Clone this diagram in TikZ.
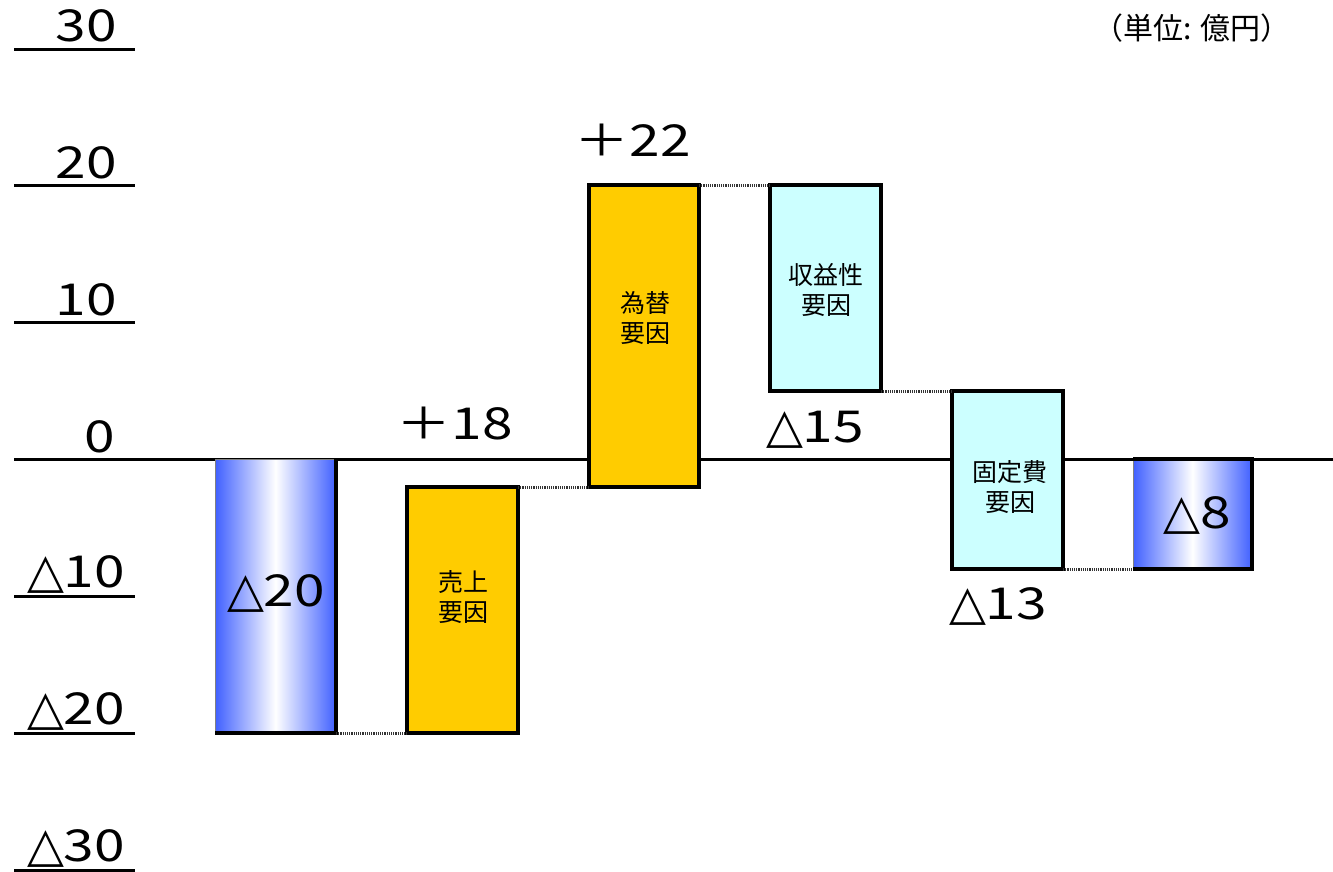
\documentclass[tikz,border=0pt]{standalone}
\usepackage{fontspec}
\setmainfont{Noto Sans CJK JP}
\newfontfamily\numfont{Noto Sans CJK JP}[FakeStretch=1.25]
\newfontfamily\trifont{DejaVu Sans}
\newcommand\mytri{{\trifont\fontsize{48}{48}\selectfont △}}
\begin{document}
\begin{tikzpicture}[x=1pt,y=-1pt,
  big/.style={font=\numfont\fontsize{44}{44}\selectfont, inner sep=0},
  axlab/.style={font=\numfont\fontsize{44}{44}\selectfont, inner sep=0},
  boxtxt/.style={font=\fontsize{25}{30}\selectfont, align=center, inner sep=0},
  bar/.style={draw=black, line width=3.5pt, inner sep=0, outer sep=0, anchor=north west},
  gbar/.style={draw=gray, line width=1pt, inner sep=0, outer sep=0, anchor=north west, left color=gblue, right color=gblue, middle color=white},
  conn/.style={draw=black!80, line width=3pt, dash pattern=on 1.2pt off 1pt},
  tick/.style={line width=3pt}]
\definecolor{gblue}{RGB}{64,96,255}
\definecolor{byel}{RGB}{255,204,0}
\definecolor{bcyan}{RGB}{204,255,255}
\useasboundingbox (0,0) rectangle (1333,871);
% axis ticks and labels
\foreach \y/\n in {49/a30,185/a20,322/a10,596/m10,733/m20,870/m30}{
  \coordinate (\n l) at (14,\y);
  \coordinate (\n r) at (135,\y);
  \draw[tick] (\n l) -- (\n r);
}
\node[axlab] (t30) at (86,26) {30};
\node[axlab] (t20) at (86,163) {20};
\node[axlab] (t10) at (86,300) {10};
\node[axlab] (t0) at (100,437) {0};
\node[axlab] (tm10) at (76,574) {\mytri10};
\node[axlab] (tm20) at (76,711) {\mytri20};
\node[axlab] (tm30) at (76,848) {\mytri30};
% zero line
\coordinate (z0) at (14,459);
\coordinate (z1) at (1333,459);
\draw[line width=3pt] (z0) -- (z1);
% bars
\node[gbar, minimum width=121, minimum height=274] (b1) at (215,459) {};
\draw[line width=3.5pt] (b1.north east) -- (b1.south east) -- (b1.south west);
\node[bar, fill=byel, minimum width=111, minimum height=246] (b2) at (407,487) {};
\node[bar, fill=byel, minimum width=110, minimum height=302] (b3) at (589,185) {};
\node[bar, fill=bcyan, minimum width=111, minimum height=206] (b4) at (770,185) {};
\node[bar, fill=bcyan, minimum width=111, minimum height=178] (b5) at (952,391) {};
\node[gbar, minimum width=119, minimum height=110] (b6) at (1133,459) {};
\draw[line width=3.5pt] (b6.north west) -- (b6.north east) -- (b6.south east) -- (b6.south west);
% connectors
\draw[conn] (b1.south east) -- (b2.south west);
\draw[conn] (b2.north east) -- (b3.south west);
\draw[conn] (b3.north east) -- (b4.north west);
\draw[conn] (b4.south east) -- (b5.north west);
\draw[conn] (b5.south east) -- (b6.south west);
% box texts
\node[boxtxt] (l2) at (463,597) {売上\\要因};
\node[boxtxt] (l3) at (645,318) {為替\\要因};
\node[boxtxt] (l4) at (826,290) {収益性\\要因};
\node[boxtxt] (l5) at (1010,487) {固定費\\要因};
% values
\node[big] (v1) at (276,593) {\mytri20};
\node[big] (v2) at (455,424) {＋18};
\node[big] (v3) at (633,140) {＋22};
\node[big] (v4) at (815,430) {\mytri15};
\node[big] (v5) at (998,606) {\mytri13};
\node[big] (v6) at (1197,515) {\mytri8};
\node[font=\fontsize{30}{30}\selectfont, inner sep=0] (unit) at (1192,28) {（単位: 億円）};
\end{tikzpicture}
\end{document}
